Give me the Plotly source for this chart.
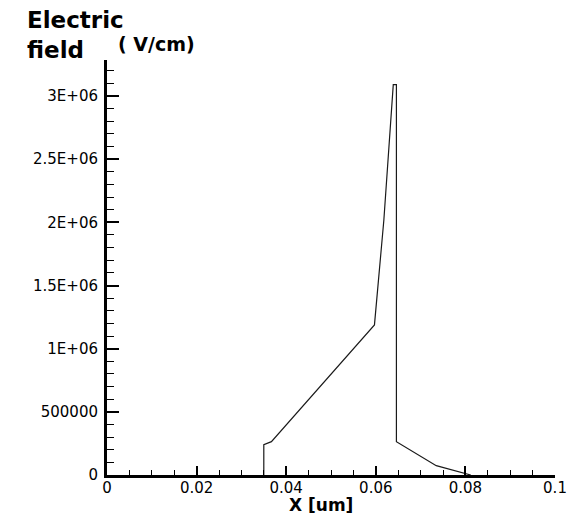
import plotly.graph_objects as go

# Data (x in um, electric field in V/cm)
x_um = [0.035, 0.035, 0.0367, 0.0597, 0.0618, 0.0639, 0.0646, 0.0646, 0.0735, 0.0797, 0.0812]
e_field = [0, 240000, 264000, 1188000, 2019000, 3090000, 3090000, 264000, 73600, 13500, 0]

x_tickvals = [0, 0.02, 0.04, 0.06, 0.08, 0.1]
x_ticktext = ["0", "0.02", "0.04", "0.06", "0.08", "0.1"]
y_tickvals = [0, 500000, 1000000, 1500000, 2000000, 2500000, 3000000]
y_ticktext = ["0", "500000", "1E+06", "1.5E+06", "2E+06", "2.5E+06", "3E+06"]

# The HTML page body has a default 8px margin; size the figure to fill the
# 579x518 window exactly, and express positions in page pixels.
OFF = 8
W, H = 579 - OFF, 518 - OFF
PAGE_L, PAGE_R, PAGE_T, PAGE_B = 107, 565, 60, 475   # plot area in page px
L = PAGE_L - OFF
T = PAGE_T - OFF
R = W - (PAGE_R - OFF)
B = H - (PAGE_B - OFF)
pw, ph = PAGE_R - PAGE_L, PAGE_B - PAGE_T

def px(xp):
    return (xp - PAGE_L) / pw

def py(yp):
    return (PAGE_B - yp) / ph

fig = go.Figure()
fig.add_trace(go.Scatter(x=x_um, y=e_field, mode="lines",
                         line=dict(color="#1a1a1a", width=1.2),
                         showlegend=False, hoverinfo="skip"))

tickfont = dict(family="DejaVu Sans", size=15, color="#000")

fig.update_layout(
    width=W, height=H,
    margin=dict(l=L, r=R, t=T, b=B, pad=0),
    paper_bgcolor="white", plot_bgcolor="white",
    xaxis=dict(range=[0, 0.1], showgrid=False, zeroline=False,
               showline=True, linewidth=3, linecolor="black",
               ticks="inside", ticklen=9, tickwidth=2, tickcolor="black",
               tickvals=x_tickvals, ticktext=x_ticktext, tickfont=tickfont,
               ticklabelstandoff=-3,
               minor=dict(ticks="inside", dtick=0.005, ticklen=5, tickwidth=1, tickcolor="black")),
    yaxis=dict(range=[0, 3.285e6], showgrid=False, zeroline=False,
               showline=True, linewidth=3, linecolor="black",
               ticks="inside", ticklen=12, tickwidth=2, tickcolor="black",
               tickvals=y_tickvals, ticktext=y_ticktext, tickfont=tickfont,
               ticklabelstandoff=3,
               minor=dict(ticks="inside", dtick=100000, ticklen=7, tickwidth=1, tickcolor="black")),
)

fig.add_annotation(text="<b>Electric</b><br><b>field</b>", xref="paper", yref="paper",
                   x=px(23), y=py(35), xanchor="left", yanchor="middle", align="left",
                   showarrow=False,
                   font=dict(family="DejaVu Sans", size=23, color="black"))
fig.add_annotation(text="<b>( V/cm)</b>", xref="paper", yref="paper",
                   x=px(116), y=py(44), xanchor="left", yanchor="middle",
                   showarrow=False,
                   font=dict(family="DejaVu Sans", size=19, color="black"))
fig.add_annotation(text="<b>X [um]</b>", xref="paper", yref="paper",
                   x=px(326), y=py(505), xanchor="center", yanchor="middle",
                   showarrow=False,
                   font=dict(family="DejaVu Sans", size=17, color="black"))

fig.write_html("out.html")
